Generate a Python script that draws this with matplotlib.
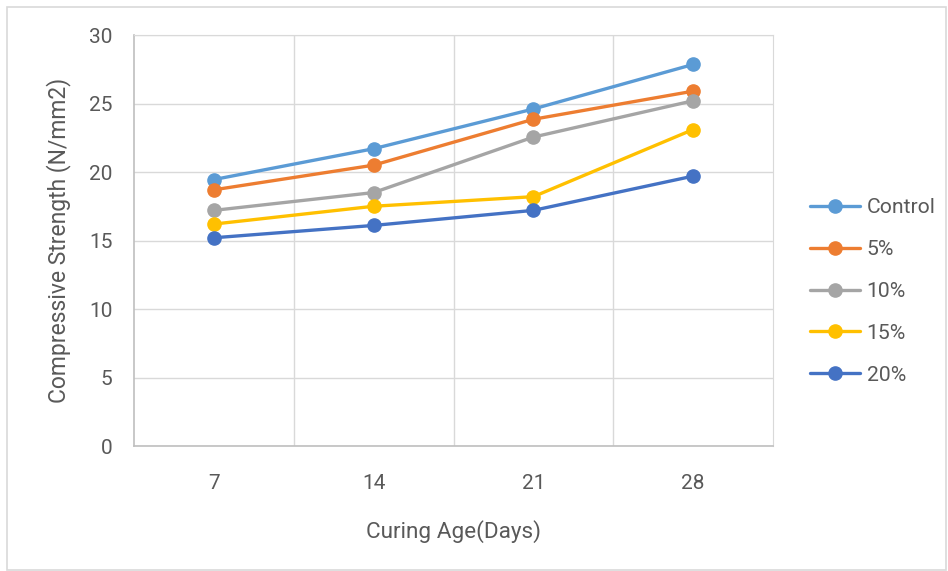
import matplotlib.pyplot as plt
from matplotlib.patches import Rectangle

# Chart data
ages = ["7", "14", "21", "28"]
control = [19.45, 21.7, 24.6, 27.85]
pct5 = [18.7, 20.5, 23.85, 25.9]
pct10 = [17.2, 18.5, 22.55, 25.2]
pct15 = [16.2, 17.5, 18.2, 23.1]
pct20 = [15.2, 16.1, 17.2, 19.7]

series = [
    ("Control", control, "#5B9BD5"),
    ("5%", pct5, "#ED7D31"),
    ("10%", pct10, "#A5A5A5"),
    ("15%", pct15, "#FFC000"),
    ("20%", pct20, "#4472C4"),
]

plt.rcParams["font.family"] = ["Roboto", "DejaVu Sans"]
text_color = "#595959"

fig = plt.figure(figsize=(9.48, 5.71), dpi=100)
ax = fig.add_axes([0.1414, 0.2189, 0.674, 0.7198])

x = list(range(len(ages)))
for name, vals, color in series:
    ax.plot(x, vals, color=color, linewidth=2.4, marker="o", markersize=9.5,
            label=name, solid_capstyle="round")

ax.set_xlim(-0.5, len(ages) - 0.5)
ax.set_ylim(0, 30)
ax.set_yticks(range(0, 31, 5))
ax.set_xticks(x)
ax.set_xticklabels(ages)

# gridlines between categories and at y ticks
ax.set_xticks([i + 0.5 for i in x[:-1]], minor=True)
ax.grid(True, which="minor", axis="x", color="#D9D9D9", linewidth=1)
ax.grid(True, which="major", axis="y", color="#D9D9D9", linewidth=1)
ax.set_axisbelow(True)

for side in ["top", "right"]:
    ax.spines[side].set_color("#D9D9D9")
for side in ["left", "bottom"]:
    ax.spines[side].set_color("#BFBFBF")
    ax.spines[side].set_linewidth(1.2)

ax.tick_params(axis="both", which="both", length=0, labelsize=15, colors=text_color)
ax.tick_params(axis="x", pad=20.5)
ax.tick_params(axis="y", pad=15.5)
ax.set_xlabel("Curing Age(Days)", fontsize=16.2, color=text_color, labelpad=19)
ax.set_ylabel("Compressive Strength (N/mm2)", fontsize=16.5, color=text_color, labelpad=13)

fig.legend(loc="center left", bbox_to_anchor=(0.834, 0.4895), frameon=False,
           fontsize=15.2, labelcolor=text_color, handlelength=2.4, handletextpad=0.3,
           labelspacing=1.08)

# outer chart border
fig.patches.append(Rectangle((0.0075, 0.002), 0.99, 0.986, transform=fig.transFigure,
                             fill=False, edgecolor="#D9D9D9", linewidth=1.2))

fig.savefig("out.png", dpi=100)
